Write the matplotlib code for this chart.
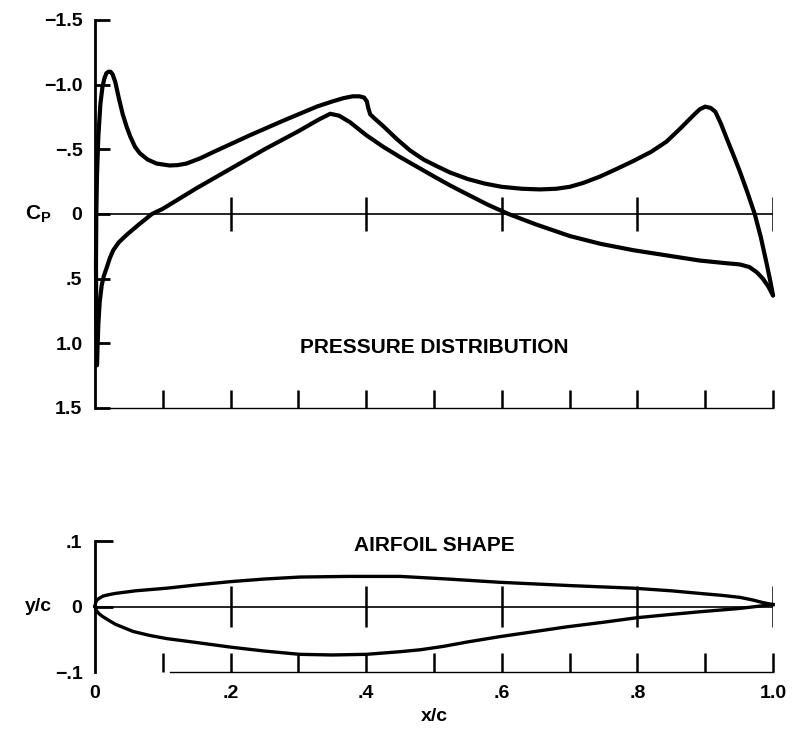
import matplotlib.pyplot as plt
import numpy as np

plt.rcParams['font.family'] = ['Liberation Sans', 'DejaVu Sans']
plt.rcParams['font.weight'] = 'bold'
plt.rcParams['mathtext.fontset'] = 'custom'
plt.rcParams['mathtext.bf'] = 'Liberation Sans:bold'
plt.rcParams['mathtext.rm'] = 'Liberation Sans:bold'

# pressure distribution, upper surface (more suction)
xu_cp = [0.003, 0.002, 0.0015, 0.002, 0.003, 0.005, 0.008, 0.011, 0.014, 0.017,
         0.02, 0.023, 0.026, 0.03, 0.035, 0.041, 0.047, 0.052, 0.059, 0.066,
         0.078, 0.091, 0.11, 0.122, 0.135, 0.155, 0.175, 0.2, 0.229, 0.277,
         0.327, 0.35, 0.366, 0.38, 0.39, 0.397, 0.401, 0.403, 0.406, 0.412,
         0.425, 0.445, 0.465, 0.485, 0.504, 0.524, 0.55, 0.575, 0.6, 0.63,
         0.656, 0.68, 0.7, 0.72, 0.745, 0.77, 0.794, 0.82, 0.843, 0.865,
         0.882, 0.892, 0.9, 0.908, 0.915, 0.923, 0.932, 0.942, 0.951, 0.962,
         0.973, 0.982, 0.99, 0.996, 1.0]
cp_u = [1.15, 0.8, 0.4, 0.0, -0.3, -0.6, -0.85, -0.98, -1.05, -1.09,
        -1.1, -1.1, -1.08, -1.02, -0.9, -0.77, -0.67, -0.6, -0.52, -0.47,
        -0.42, -0.39, -0.375, -0.378, -0.39, -0.43, -0.48, -0.54, -0.61, -0.72,
        -0.83, -0.87, -0.895, -0.91, -0.91, -0.9, -0.87, -0.82, -0.77, -0.74,
        -0.68, -0.58, -0.49, -0.42, -0.37, -0.32, -0.27, -0.235, -0.21, -0.195,
        -0.19, -0.195, -0.21, -0.24, -0.29, -0.35, -0.41, -0.48, -0.56, -0.67,
        -0.76, -0.81, -0.83, -0.82, -0.79, -0.7, -0.58, -0.45, -0.33, -0.17,
        0.0, 0.18, 0.37, 0.52, 0.63]

# pressure distribution, lower surface
xl_cp = [0.003, 0.004, 0.005, 0.007, 0.01, 0.013, 0.017, 0.022, 0.027, 0.035,
         0.047, 0.065, 0.084, 0.1, 0.15, 0.2, 0.25, 0.3, 0.33, 0.347,
         0.36, 0.376, 0.4, 0.425, 0.45, 0.475, 0.5, 0.524, 0.55, 0.58,
         0.61, 0.65, 0.7, 0.745, 0.794, 0.843, 0.892, 0.93, 0.951, 0.965,
         0.976, 0.985, 0.993, 1.0]
cp_l = [1.17, 1.0, 0.85, 0.68, 0.55, 0.48, 0.42, 0.34, 0.28, 0.22,
        0.16, 0.08, 0.0, -0.04, -0.2, -0.35, -0.5, -0.64, -0.73, -0.775,
        -0.76, -0.71, -0.61, -0.52, -0.44, -0.365, -0.29, -0.22, -0.15, -0.07,
        0.0, 0.08, 0.17, 0.23, 0.28, 0.32, 0.36, 0.38, 0.39, 0.41,
        0.45, 0.5, 0.56, 0.63]

# airfoil shape
xu_af = [0.0, 0.001, 0.003, 0.007, 0.012, 0.02, 0.03, 0.06, 0.106, 0.15,
         0.2, 0.25, 0.302, 0.375, 0.45, 0.52, 0.597, 0.7, 0.794, 0.85,
         0.892, 0.925, 0.951, 0.97, 0.985, 1.0]
yu_af = [0.0, 0.006, 0.01, 0.013, 0.016, 0.018, 0.02, 0.024, 0.028, 0.033,
         0.038, 0.042, 0.045, 0.046, 0.046, 0.042, 0.037, 0.032, 0.028, 0.024,
         0.02, 0.017, 0.014, 0.01, 0.006, 0.003]
xl_af = [0.0, 0.002, 0.006, 0.011, 0.017, 0.03, 0.056, 0.08, 0.106, 0.15,
         0.2, 0.25, 0.302, 0.35, 0.4, 0.45, 0.48, 0.513, 0.55, 0.597,
         0.65, 0.696, 0.75, 0.8, 0.85, 0.892, 0.95, 1.0]
yl_af = [0.0, -0.006, -0.011, -0.015, -0.019, -0.027, -0.038, -0.044, -0.049, -0.055,
         -0.062, -0.068, -0.073, -0.074, -0.073, -0.069, -0.066, -0.061, -0.054, -0.046,
         -0.038, -0.031, -0.024, -0.017, -0.012, -0.008, -0.003, 0.003]

cp_ticks = [-1.5, -1.0, -0.5, 0, 0.5, 1.0, 1.5]
cp_labels = ['\u22121.5', '\u22121.0', '\u2212.5', '0', '.5', '1.0', '1.5']
x_major = [0, 0.2, 0.4, 0.6, 0.8, 1.0]
x_labels = ['0', '.2', '.4', '.6', '.8', '1.0']
x_minor = [0.1, 0.3, 0.5, 0.7, 0.9]
x_tenths = [0.1, 0.2, 0.3, 0.4, 0.5, 0.6, 0.7, 0.8, 0.9, 1.0]
yc_ticks = [-0.1, 0, 0.1]
yc_labels = ['\u2212.1', '0', '.1']
cross_ticks = [0.2, 0.4, 0.6, 0.8, 1.0]

fig = plt.figure(figsize=(7.94, 7.35), dpi=100)
ax1 = fig.add_axes([0.1196, 0.4449, 0.854, 0.5279])
ax2 = fig.add_axes([0.1196, 0.0857, 0.854, 0.1782])

fs = 14
fs_title = 15
for ax in (ax1, ax2):
    ax.set_xlim(0, 1)
    ax.spines['top'].set_visible(False)
    ax.spines['right'].set_visible(False)
    ax.spines['left'].set_linewidth(2.0)
    ax.spines['bottom'].set_linewidth(1.0)

# ---- pressure distribution ----
ax1.set_ylim(1.5, -1.5)
ax1.plot(xu_cp, cp_u, color='black', lw=3.0, clip_on=False,
         solid_joinstyle='round', solid_capstyle='round')
ax1.plot(xl_cp, cp_l, color='black', lw=3.0, clip_on=False,
         solid_joinstyle='round', solid_capstyle='round')
ax1.axhline(0, color='black', lw=1.2)
ax1.vlines(cross_ticks, -0.13, 0.13, color='black', lw=1.8)
ax1.set_yticks(cp_ticks)
ax1.set_yticklabels(cp_labels)
ax1.tick_params(axis='y', direction='in', length=11, width=2, pad=9, labelsize=fs)
ax1.set_xticks(x_tenths)
ax1.set_xticklabels([])
ax1.tick_params(axis='x', direction='in', length=13, width=1.8)
ax1.spines['bottom'].set_bounds(0.008, 1.0)
ax1.text(-0.083, 0, r'$\mathbf{C}_{\mathbf{P}}$', transform=ax1.get_yaxis_transform(),
         ha='center', va='center', fontsize=fs + 1)
ax1.text(0.5, 1.03, 'PRESSURE DISTRIBUTION', ha='center', va='center', fontsize=fs_title)

# ---- airfoil shape ----
ax2.set_ylim(-0.1, 0.1)
ax2.plot(xu_af, yu_af, color='black', lw=2.4, clip_on=False, solid_joinstyle='round')
ax2.plot(xl_af, yl_af, color='black', lw=2.4, clip_on=False, solid_joinstyle='round')
ax2.axhline(0, color='black', lw=1.2)
ax2.vlines(cross_ticks, -0.031, 0.031, color='black', lw=1.8)
ax2.set_yticks(yc_ticks)
ax2.set_yticklabels(yc_labels)
ax2.tick_params(axis='y', direction='in', length=13, width=2, pad=9, labelsize=fs)
ax2.yaxis.get_major_ticks()[0].tick1line.set_visible(False)
ax2.set_xticks(x_major)
ax2.set_xticklabels(x_labels)
ax2.set_xticks(x_minor, minor=True)
ax2.tick_params(axis='x', which='both', direction='in', length=14, width=1.8, pad=9,
                labelsize=fs)
ax2.xaxis.get_major_ticks()[0].tick1line.set_visible(False)
ax2.spines['bottom'].set_bounds(0.11, 1.0)
ax2.text(-0.083, 0, 'y/c', transform=ax2.get_yaxis_transform(),
         ha='center', va='center', fontsize=fs)
ax2.text(0.5, 0.093, 'AIRFOIL SHAPE', ha='center', va='center', fontsize=fs_title)
ax2.text(0.5, -0.168, 'x/c', ha='center', va='center', fontsize=fs)

fig.savefig('out.png', dpi=100, facecolor='white')
